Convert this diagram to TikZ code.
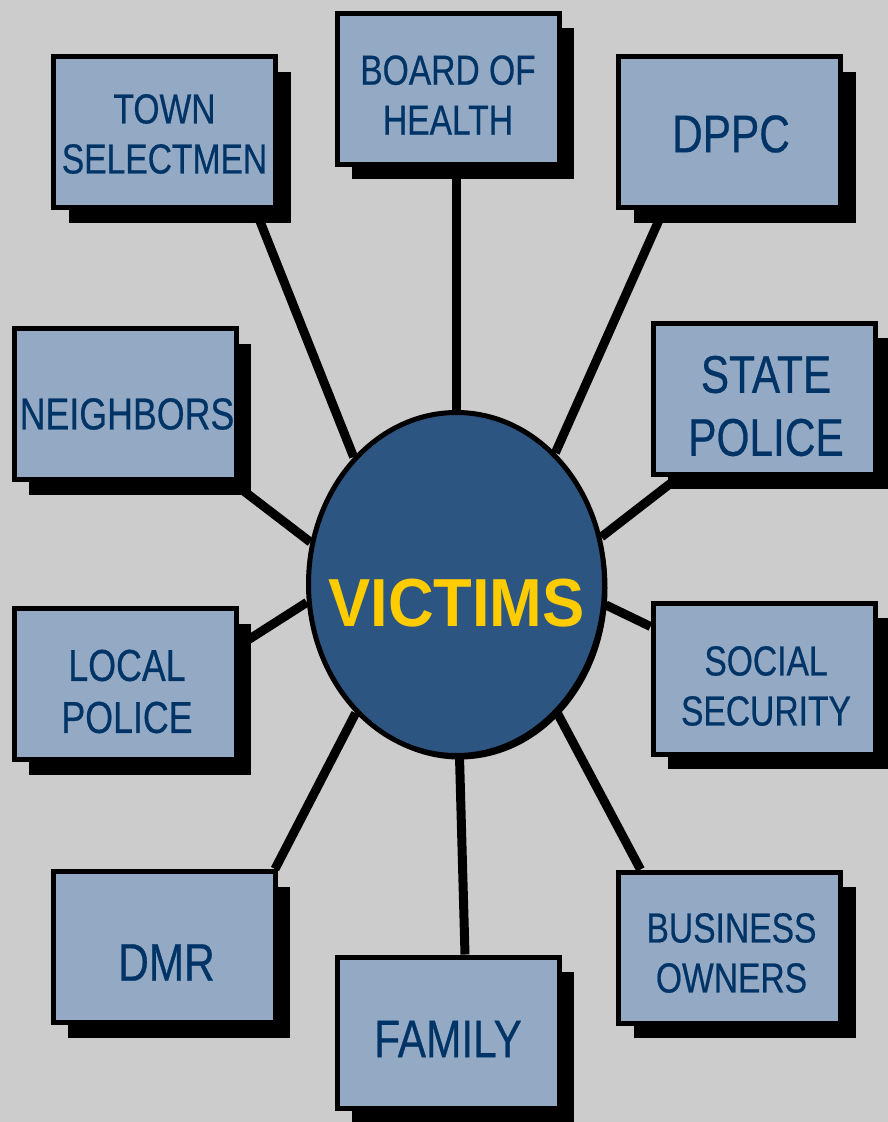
\documentclass[tikz,border=0pt]{standalone}
\usepackage{fontspec}
\setmainfont[FakeStretch=0.8,FakeBold=0.5]{Liberation Sans}
\newfontfamily\vicfont[FakeStretch=0.93]{Liberation Sans}
\usetikzlibrary{shapes.geometric,shadows,backgrounds}
\definecolor{bg}{RGB}{204,204,204}
\definecolor{boxfill}{RGB}{148,170,196}
\definecolor{navy}{RGB}{0,51,102}
\definecolor{ellfill}{RGB}{44,85,130}
\definecolor{gold}{RGB}{255,204,0}
\tikzset{
  box/.style={draw=black, line width=5pt, fill=boxfill, minimum width=222pt, minimum height=151pt, inner sep=0pt,
    drop shadow={shadow xshift=15pt, shadow yshift=-15pt, fill=black, opacity=1}},
  txtA/.style={text=navy, align=center, font=\fontsize{42}{50}\selectfont},
  txtB/.style={text=navy, align=center, font=\fontsize{44.7}{52}\selectfont},
  txtC/.style={text=navy, align=center, font=\fontsize{53}{63}\selectfont},
  conn/.style={line width=9pt, black},
  hub/.style={ellipse, draw=black, line width=5pt, fill=ellfill, minimum width=296pt, minimum height=343pt, inner sep=0pt,
    drop shadow={shadow xshift=3pt, shadow yshift=-4pt, fill=black, opacity=1}}
}
\begin{document}
\begin{tikzpicture}[x=1pt,y=-1pt]
\useasboundingbox (0,0) rectangle (888,1122);
\node[hub] (victims) at (456.5,584) {\makebox[0pt]{\smash{\raisebox{-42.5pt}{\color{gold}\vicfont\bfseries\fontsize{68}{70}\selectfont VICTIMS}}}};
\node[box, label={[txtA, yshift=-2pt]center:TOWN\\SELECTMEN}] (town) at (164.5,132) {};
\node[box, label={[txtA, yshift=-6.5pt]center:BOARD OF\\HEALTH}] (board) at (448,88.5) {};
\node[box, label={[txtC, xshift=1.5pt, yshift=-2pt]center:DPPC}] (dppc) at (729.5,132) {};
\node[box, label={[txtB, xshift=2pt, yshift=-10pt]center:NEIGHBORS}] (neighbors) at (125,404) {};
\node[box, label={[txtC, xshift=2pt, yshift=-7.5pt]center:STATE\\POLICE}] (state) at (764,398.5) {};
\node[box, label={[txtB, xshift=2pt, yshift=-7.5pt]center:LOCAL\\POLICE}] (local) at (125,684) {};
\node[box, label={[txtA, xshift=2pt, yshift=-7.5pt]center:SOCIAL\\SECURITY}] (social) at (764,678.5) {};
\node[box, label={[txtC, xshift=2.5pt, yshift=-15.5pt]center:DMR}] (dmr) at (164,947) {};
\node[box, label={[txtC, xshift=0pt, yshift=-6.5pt]center:FAMILY}] (family) at (448,1032.5) {};
\node[box, label={[txtA, xshift=2pt, yshift=-5.5pt]center:BUSINESS\\OWNERS}] (business) at (729.5,947.5) {};
\begin{pgfonlayer}{background}
\fill[bg] (0,0) rectangle (888,1122);
\draw[conn] ([xshift=91pt]town.south) -- (victims.129);
\draw[conn] (board.south -| victims.north) -- (victims.north);
\draw[conn] ([xshift=-66pt]dppc.south) -- (victims.53.5);
\draw[conn] ([xshift=107pt]neighbors.south) -- (victims.164.4);
\draw[conn] ([xshift=-84.6pt]state.south) -- (victims.18.7);
\draw[conn] ([yshift=38pt]local.east) -- (victims.187.4);
\draw[conn] ([yshift=52pt]social.west) -- (victims.352.3);
\draw[conn] ([xshift=111pt]dmr.north) -- (victims.232.9);
\draw[conn] ([xshift=17pt]family.north) -- (victims.271.7);
\draw[conn] ([xshift=-89pt]business.north) -- (victims.308.6);
\end{pgfonlayer}
\end{tikzpicture}
\end{document}
